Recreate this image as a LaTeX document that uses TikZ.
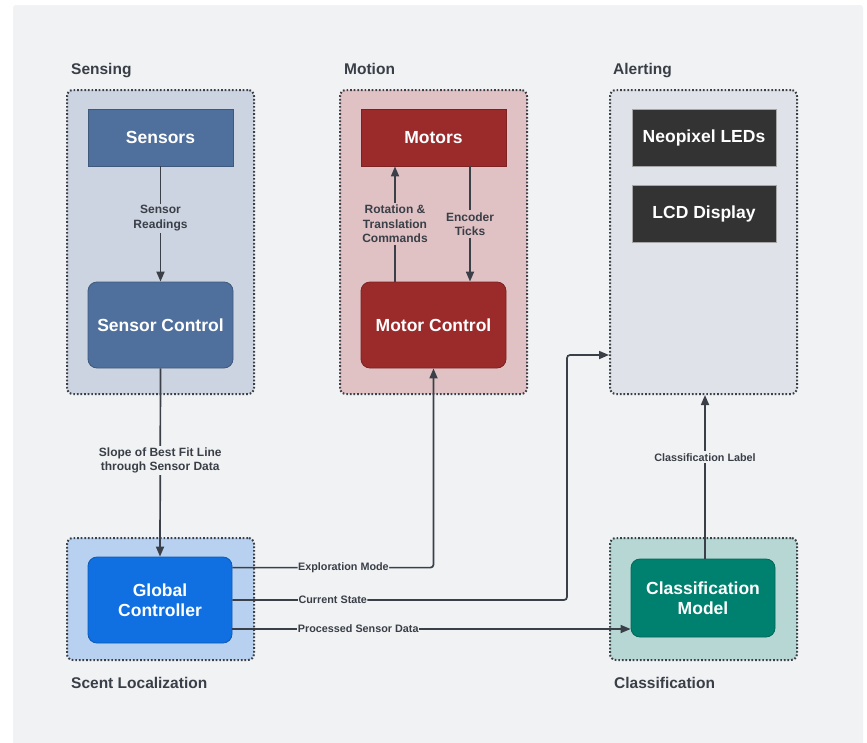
\documentclass[tikz,border=0pt]{standalone}
\usepackage{fontspec}
\setmainfont{Liberation Sans}
\usetikzlibrary{arrows.meta,positioning,calc}
\definecolor{panel}{HTML}{F1F2F4}
\definecolor{ink}{HTML}{3A3F47}
\definecolor{lineink}{HTML}{3B4048}
\definecolor{senfill}{HTML}{CCD4E1}
\definecolor{senbox}{HTML}{4F6F9C}
\definecolor{motfill}{HTML}{E0C2C5}
\definecolor{motbox}{HTML}{9B2A2B}
\definecolor{alefill}{HTML}{DFE2E8}
\definecolor{alebox}{HTML}{333333}
\definecolor{scefill}{HTML}{B9D1F0}
\definecolor{scebox}{HTML}{1070E2}
\definecolor{clafill}{HTML}{B6D7D3}
\definecolor{clabox}{HTML}{00816F}
\tikzset{
  grp/.style={draw=lineink, line width=2pt, dash pattern=on 1.7pt off 1.9pt, rounded corners=6pt,
    minimum width=187pt, minimum height=304pt, inner sep=0pt},
  grplbl/.style={font=\fontsize{15.5}{18}\selectfont\bfseries, text=ink, anchor=base west, inner sep=0pt},
  box/.style={minimum width=145pt, minimum height=57pt, inner sep=0pt, text=white,
    font=\fontsize{17.5}{20.5}\selectfont\bfseries, align=center, line width=0.8pt},
  rbox/.style={box, minimum height=86pt, rounded corners=9pt},
  arr/.style={draw=lineink, line width=1.7pt, -{Triangle[length=10pt,width=8pt]}},
  lbl/.style={font=\fontsize{12}{14.5}\selectfont\bfseries, text=ink, align=center, inner sep=2pt},
  slbl/.style={font=\fontsize{10.8}{13}\selectfont\bfseries, text=ink, fill=panel, inner sep=0.5pt},
}
\begin{document}
\begin{tikzpicture}[x=1pt,y=-1pt]
\useasboundingbox (0,0) rectangle (867,742);
\fill[white] (0,0) rectangle (867,742);
\fill[panel, rounded corners=3pt] (13,5) rectangle (863,748);

% groups
\node[grp, fill=senfill] (gsen) at (160.5,242) {};
\node[grp, fill=motfill] (gmot) at (433.5,242) {};
\node[grp, fill=alefill] (galert) at (703.5,242) {};
\node[grp, fill=scefill, minimum height=122pt] (gsce) at (160.5,599) {};
\node[grp, fill=clafill, minimum height=122pt] (gcla) at (703.5,599) {};

\node[grplbl] (lsen) at (71,74.5) {Sensing};
\node[grplbl] (lmot) at (344,74.5) {Motion};
\node[grplbl] (lale) at (613,74.5) {Alerting};
\node[grplbl] (lsce) at (71,688) {Scent Localization};
\node[grplbl] (lcla) at (614,688) {Classification};

% boxes
\node[box, fill=senbox, draw=senbox!80!black] (sensors) at (160.5,137.5) {Sensors};
\node[rbox, fill=senbox, draw=senbox!80!black] (sc) at (160.5,325) {Sensor Control};
\node[box, fill=motbox, draw=motbox!80!black] (motors) at (433.5,137.5) {Motors};
\node[rbox, fill=motbox, draw=motbox!80!black] (mc) at (433.5,325) {Motor Control};
\node[box, fill=alebox, draw=gray!70, minimum width=144pt] (neo) at (704,137.5) {Neopixel LEDs};
\node[box, fill=alebox, draw=gray!70, minimum width=144pt] (lcd) at (704,213.5) {LCD Display};
\node[rbox, fill=scebox, draw=scebox!80!black, minimum width=144pt] (gc) at (160,600) {Global\\[-1pt]Controller};
\node[rbox, fill=clabox, draw=clabox!80!black, minimum width=144pt, minimum height=78pt] (cm) at (703,598) {Classification\\[-1pt]Model};

% connectors
\draw[arr] (sensors.south) -- node[lbl, fill=senfill, pos=0.45]{Sensor\\Readings} (sc.north);
\draw[arr] ([xshift=-38.5pt]mc.north) -- node[lbl, fill=motfill, pos=0.5]{Rotation \&\\Translation\\Commands} ([xshift=-38.5pt]motors.south);
\draw[arr] ([xshift=36.5pt]motors.south) -- node[lbl, fill=motfill, pos=0.5]{Encoder\\Ticks} ([xshift=36.5pt]mc.north);
\draw[arr] (sc.south) -- node[lbl, fill=panel, pos=0.49]{Slope of Best Fit Line\\through Sensor Data} (gc.north);

\draw[arr, rounded corners=3pt] ([yshift=-11pt]gc.north east) -| node[slbl, pos=0.276]{Exploration Mode} (mc.south);
\coordinate (csturn) at (567,600);
\draw[arr, rounded corners=3pt] (gc.east) -- node[slbl, pos=0.3]{Current State} (csturn) |- ([yshift=-113pt]galert.west);
\coordinate (pdstart) at ([yshift=-29pt]gc.east);
\draw[arr] (pdstart) -- node[slbl, pos=0.316]{Processed Sensor Data} (pdstart -| cm.west);
\draw[arr] ([xshift=2pt]cm.north) -- node[slbl, fill=panel, inner sep=2pt, pos=0.62]{Classification Label} ([xshift=2pt]cm.north |- galert.south);
\end{tikzpicture}
\end{document}
